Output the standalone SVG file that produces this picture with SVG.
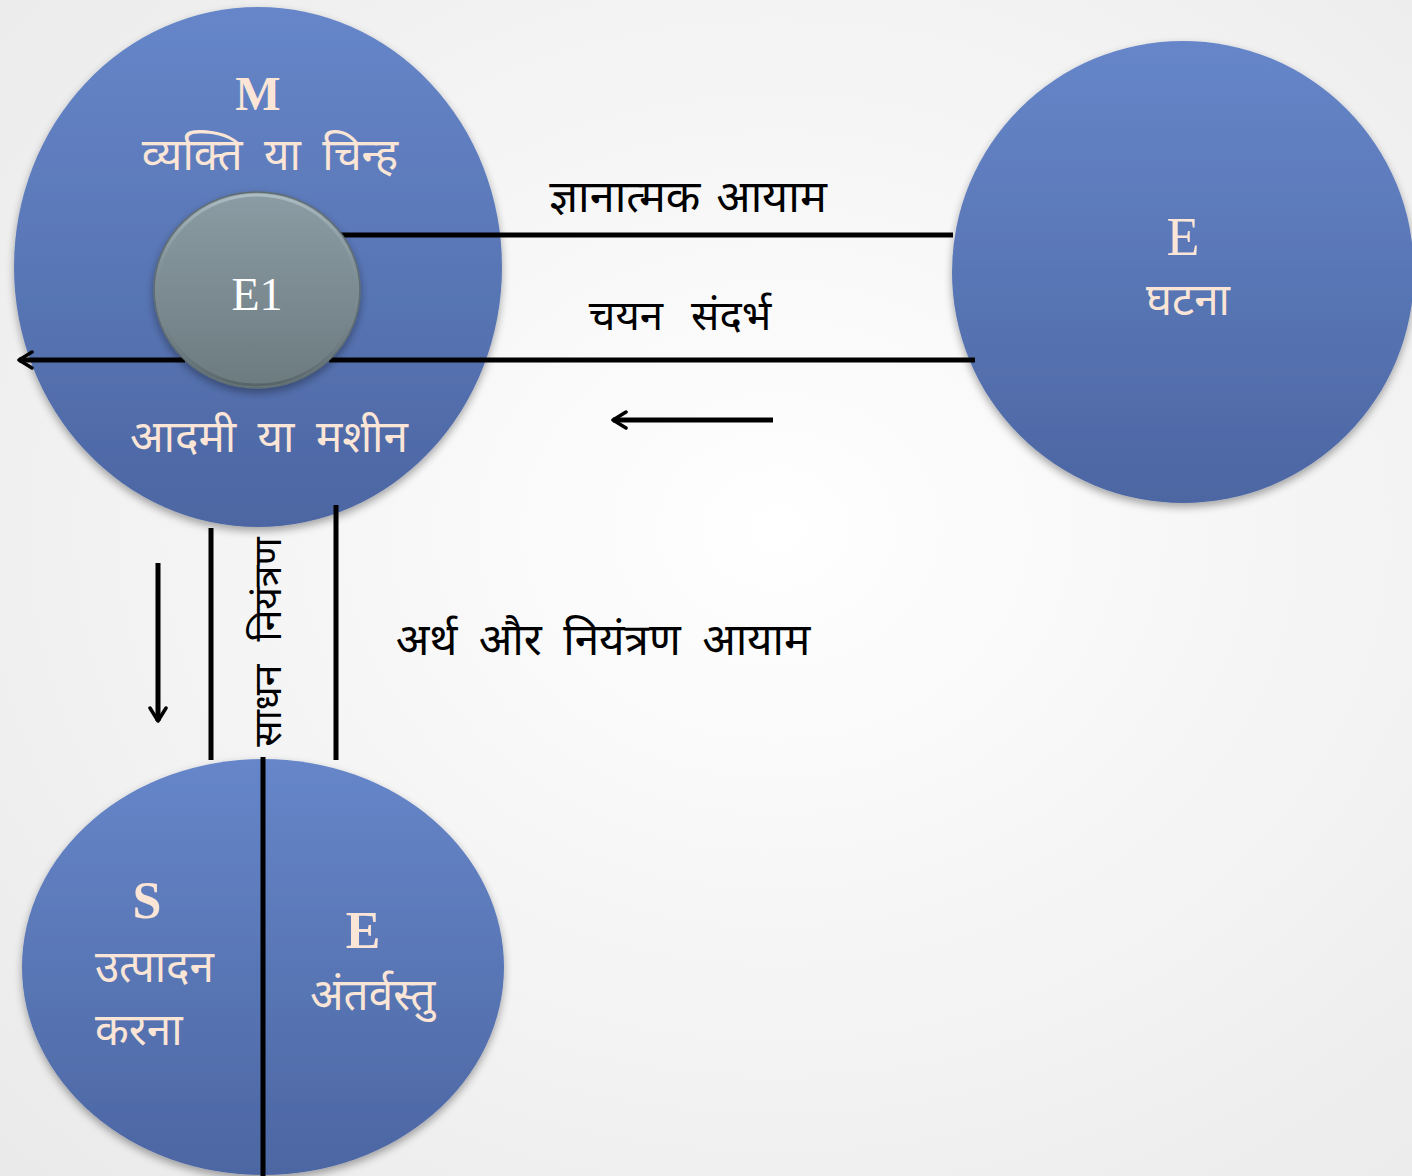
<svg xmlns="http://www.w3.org/2000/svg" width="1412" height="1176" viewBox="0 0 1412 1176">
<defs>
<radialGradient id="bg" cx="0.55" cy="0.45" r="0.8">
<stop offset="0" stop-color="#ffffff"/>
<stop offset="1" stop-color="#e9e9e9"/>
</radialGradient>
<linearGradient id="blue" x1="0" y1="0" x2="0" y2="1">
<stop offset="0" stop-color="#6686c9"/>
<stop offset="1" stop-color="#4c66a2"/>
</linearGradient>
<linearGradient id="gray" x1="0" y1="0" x2="0" y2="1">
<stop offset="0" stop-color="#8c9ca4"/>
<stop offset="1" stop-color="#6c7b80"/>
</linearGradient>
<linearGradient id="bevel" x1="0" y1="0" x2="0" y2="1">
<stop offset="0" stop-color="#c4d2d8"/>
<stop offset="0.5" stop-color="#8c9ca4" stop-opacity="0"/>
<stop offset="1" stop-color="#4a5558"/>
</linearGradient>
<filter id="sh" x="-10%" y="-10%" width="120%" height="125%">
<feGaussianBlur in="SourceAlpha" stdDeviation="4"/>
<feOffset dx="0" dy="4" result="b"/>
<feComponentTransfer><feFuncA type="linear" slope="0.35"/></feComponentTransfer>
<feMerge><feMergeNode/><feMergeNode in="SourceGraphic"/></feMerge>
</filter>
<marker id="arr" viewBox="0 0 20 20" refX="17" refY="10" markerWidth="20" markerHeight="20" markerUnits="userSpaceOnUse" orient="auto">
<path d="M4,2 L17,10 L4,18" fill="none" stroke="#000" stroke-width="3.5" stroke-linecap="round" stroke-linejoin="round"/>
</marker>
</defs>
<style>
.ln{stroke:#000;stroke-width:5;fill:none}
.lat{font-family:"Liberation Serif","DejaVu Serif",serif;fill:#fbe5d6;text-anchor:middle}
.dev{font-family:"Noto Sans Devanagari","Lohit Devanagari","Noto Sans","DejaVu Sans",sans-serif;fill:#fbe5d6;font-size:44px;word-spacing:10px}
.blk{font-family:"Noto Sans Devanagari","Lohit Devanagari","Noto Sans","DejaVu Sans",sans-serif;fill:#000;text-anchor:middle}
</style>
<rect width="1412" height="1176" fill="url(#bg)"/>

<g id="node-M">
<ellipse cx="258" cy="267" rx="244" ry="260" fill="url(#blue)" filter="url(#sh)"/>
<text class="lat" x="258" y="110" font-size="48" font-weight="bold">M</text>
<text class="dev" x="270" y="170" text-anchor="middle">व्यक्ति या चिन्ह</text>
<text class="dev" x="269" y="452" text-anchor="middle">आदमी या मशीन</text>
</g>

<g id="node-E-right">
<ellipse cx="1183" cy="272" rx="231" ry="231" fill="url(#blue)" filter="url(#sh)"/>
<text class="lat" x="1183" y="255" font-size="54">E</text>
<text class="dev" x="1188" y="315" text-anchor="middle" font-size="45">घटना</text>
</g>

<g id="node-SE">
<ellipse cx="263" cy="967" rx="241" ry="208" fill="url(#blue)" filter="url(#sh)"/>
<text class="lat" x="147" y="918" font-size="52" font-weight="bold">S</text>
<text class="dev" x="95" y="982" font-size="46">उत्पादन</text>
<text class="dev" x="95" y="1045">करना</text>
<text class="lat" x="363" y="948" font-size="52" font-weight="bold">E</text>
<text class="dev" x="310" y="1010">अंतर्वस्तु</text>
</g>

<g id="connectors">
<line class="ln" x1="337" y1="235" x2="953" y2="235"/>
<line class="ln" x1="329" y1="360" x2="975" y2="360"/>
<line class="ln" x1="185" y1="360" x2="19" y2="360" marker-end="url(#arr)"/>
<line class="ln" x1="773" y1="420" x2="613" y2="420" marker-end="url(#arr)"/>
<line class="ln" x1="158" y1="563" x2="158" y2="721" marker-end="url(#arr)"/>
<line class="ln" x1="211" y1="528" x2="211" y2="760"/>
<line class="ln" x1="336" y1="505" x2="336" y2="760"/>
<line class="ln" x1="263" y1="757" x2="263" y2="1176"/>
</g>

<g id="node-E1">
<ellipse cx="257" cy="290" rx="103" ry="98" fill="url(#gray)" stroke="#5f6c70" stroke-width="1.5" filter="url(#sh)"/>
<ellipse cx="257" cy="290" rx="100" ry="95" fill="none" stroke="url(#bevel)" stroke-width="3" opacity="0.6"/>
<text x="257" y="310" font-size="46" font-family="Liberation Serif,serif" fill="#ffffff" text-anchor="middle">E1</text>
</g>

<g id="labels">
<text class="blk" x="688" y="212" font-size="45" word-spacing="4">ज्ञानात्मक आयाम</text>
<text class="blk" x="680" y="330" font-size="42" word-spacing="17">चयन संदर्भ</text>
<text class="blk" x="603" y="655" font-size="44" word-spacing="10">अर्थ और नियंत्रण आयाम</text>
<text class="blk" x="0" y="0" font-size="39" word-spacing="13" transform="translate(281,642) rotate(-90)">साधन नियंत्रण</text>
</g>
</svg>
